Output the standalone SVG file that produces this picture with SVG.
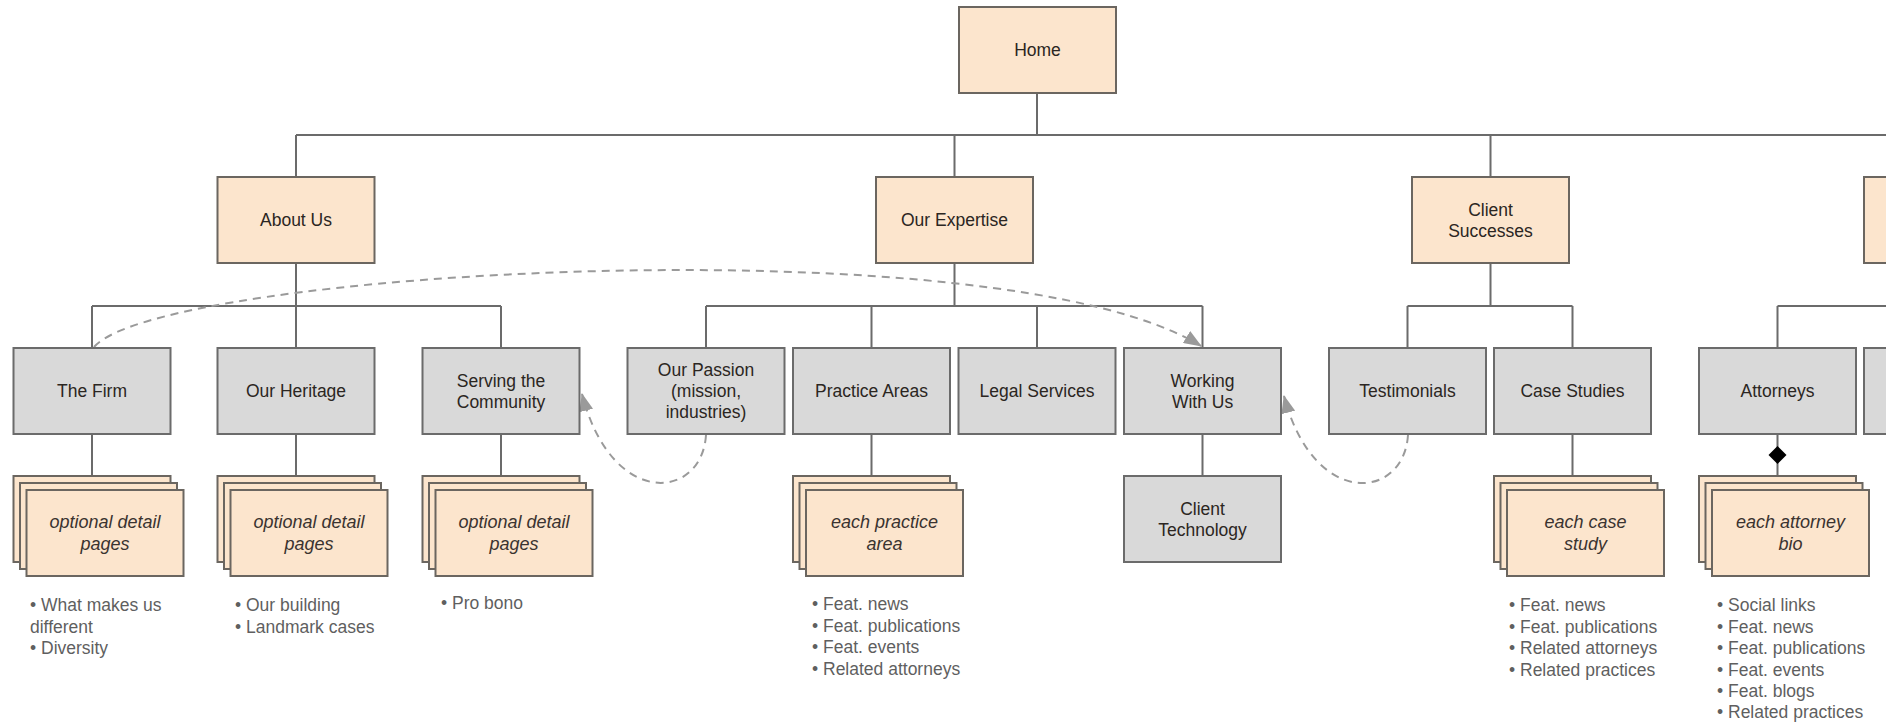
<svg xmlns="http://www.w3.org/2000/svg" width="1886" height="722" viewBox="0 0 1886 722">
<defs>
<style>
.o{fill:#fce5cd;stroke:#6b6660;stroke-width:2}
.g{fill:#d9d9d9;stroke:#6b6b6b;stroke-width:2}
.t{font-family:"Liberation Sans",Arial,sans-serif;font-size:17.5px;fill:#2b2622;text-anchor:middle;dominant-baseline:central}
.i{font-family:"Liberation Sans",Arial,sans-serif;font-size:18px;font-style:italic;fill:#3a3330;text-anchor:middle;dominant-baseline:central}
.b{font-family:"Liberation Sans",Arial,sans-serif;font-size:17.5px;fill:#5f5f5f}
.ln{fill:none;stroke:#6b6b6b;stroke-width:2}
.d{fill:none;stroke:#9a9a9a;stroke-width:2;stroke-dasharray:8 6}
</style>
<marker id="ah2" viewBox="0 0 18 14" refX="17" refY="7" markerWidth="18" markerHeight="14" markerUnits="userSpaceOnUse" orient="auto">
<path d="M0 0 L18 7 L0 14 z" fill="#9a9a9a"/>
</marker>
<g id="stack">
<rect class="o" x="0" y="0" width="157" height="86"/>
<rect class="o" x="6.5" y="7" width="157" height="86"/>
<rect class="o" x="13" y="14" width="157" height="86"/>
</g>
</defs>
<rect width="1886" height="722" fill="#ffffff"/>

<g id="connectors">
<path class="ln" d="M1037 93 V135 M296 135 H1886 M296 135 V177 M954.5 135 V177 M1490.5 135 V177"/>
<path class="ln" d="M296 263 V306 M92 306 H501 M92 306 V348 M296 306 V348 M501 306 V348"/>
<path class="ln" d="M954.5 263 V306 M706 306 H1202.5 M706 306 V348 M871.5 306 V348 M1037 306 V348 M1202.5 306 V348"/>
<path class="ln" d="M1490.5 263 V306 M1407.5 306 H1572.5 M1407.5 306 V348 M1572.5 306 V348"/>
<path class="ln" d="M1777.5 306 H1886 M1777.5 306 V348"/>
<path class="ln" d="M92 434 V476 M296 434 V476 M501 434 V476 M871.5 434 V476 M1202.5 434 V476 M1572.5 434 V476 M1777.5 434 V476"/>
<path d="M1777.5 446 L1786.5 455 L1777.5 464 L1768.5 455 z" fill="#000"/>
<path class="d" d="M94 347 C160 270, 1000 222, 1201 346" marker-end="url(#ah2)"/>
<path class="d" d="M706 435 C702 500, 612 510, 582 394" marker-end="url(#ah2)"/>
<path class="d" d="M1408 435 C1404 500, 1314 510, 1284 396" marker-end="url(#ah2)"/>
</g>

<g id="home"><rect class="o" x="959" y="7" width="157" height="86"/><text class="t" x="1037.5" y="50">Home</text></g>
<g id="about-us"><rect class="o" x="217.5" y="177" width="157" height="86"/><text class="t" x="296" y="220">About Us</text></g>
<g id="our-expertise"><rect class="o" x="876" y="177" width="157" height="86"/><text class="t" x="954.5" y="220">Our Expertise</text></g>
<g id="client-successes"><rect class="o" x="1412" y="177" width="157" height="86"/><text class="t" x="1490.5" y="209.5">Client</text><text class="t" x="1490.5" y="230.5">Successes</text></g>
<g id="top-5"><rect class="o" x="1864" y="177" width="157" height="86"/></g>

<g id="the-firm"><rect class="g" x="13.5" y="348" width="157" height="86"/><text class="t" x="92" y="391">The Firm</text></g>
<g id="our-heritage"><rect class="g" x="217.5" y="348" width="157" height="86"/><text class="t" x="296" y="391">Our Heritage</text></g>
<g id="serving"><rect class="g" x="422.5" y="348" width="157" height="86"/><text class="t" x="501" y="380.5">Serving the</text><text class="t" x="501" y="401.5">Community</text></g>
<g id="our-passion"><rect class="g" x="627.5" y="348" width="157" height="86"/><text class="t" x="706" y="370">Our Passion</text><text class="t" x="706" y="391">(mission,</text><text class="t" x="706" y="412">industries)</text></g>
<g id="practice-areas"><rect class="g" x="793" y="348" width="157" height="86"/><text class="t" x="871.5" y="391">Practice Areas</text></g>
<g id="legal-services"><rect class="g" x="958.5" y="348" width="157" height="86"/><text class="t" x="1037" y="391">Legal Services</text></g>
<g id="working-with-us"><rect class="g" x="1124" y="348" width="157" height="86"/><text class="t" x="1202.5" y="380.5">Working</text><text class="t" x="1202.5" y="401.5">With Us</text></g>
<g id="testimonials"><rect class="g" x="1329" y="348" width="157" height="86"/><text class="t" x="1407.5" y="391">Testimonials</text></g>
<g id="case-studies"><rect class="g" x="1494" y="348" width="157" height="86"/><text class="t" x="1572.5" y="391">Case Studies</text></g>
<g id="attorneys"><rect class="g" x="1699" y="348" width="157" height="86"/><text class="t" x="1777.5" y="391">Attorneys</text></g>
<g id="second-11"><rect class="g" x="1864" y="348" width="157" height="86"/></g>

<g id="client-technology"><rect class="g" x="1124" y="476" width="157" height="86"/><text class="t" x="1202.5" y="508.5">Client</text><text class="t" x="1202.5" y="529.5">Technology</text></g>

<g id="firm-details"><use href="#stack" x="13.5" y="476"/><text class="i" x="105" y="522">optional detail</text><text class="i" x="105" y="544">pages</text>
<text class="b" y="611"><tspan x="30">• What makes us</tspan><tspan x="30" y="632.5">different</tspan><tspan x="30" y="654">• Diversity</tspan></text></g>
<g id="heritage-details"><use href="#stack" x="217.5" y="476"/><text class="i" x="309" y="522">optional detail</text><text class="i" x="309" y="544">pages</text>
<text class="b" y="611"><tspan x="235">• Our building</tspan><tspan x="235" y="632.5">• Landmark cases</tspan></text></g>
<g id="serving-details"><use href="#stack" x="422.5" y="476"/><text class="i" x="514" y="522">optional detail</text><text class="i" x="514" y="544">pages</text>
<text class="b" x="441" y="609">• Pro bono</text></g>
<g id="practice-details"><use href="#stack" x="793" y="476"/><text class="i" x="884.5" y="522">each practice</text><text class="i" x="884.5" y="544">area</text>
<text class="b" y="610"><tspan x="812">• Feat. news</tspan><tspan x="812" y="631.5">• Feat. publications</tspan><tspan x="812" y="653">• Feat. events</tspan><tspan x="812" y="674.5">• Related attorneys</tspan></text></g>
<g id="case-details"><use href="#stack" x="1494" y="476"/><text class="i" x="1585.5" y="522">each case</text><text class="i" x="1585.5" y="544">study</text>
<text class="b" y="611"><tspan x="1509">• Feat. news</tspan><tspan x="1509" y="632.5">• Feat. publications</tspan><tspan x="1509" y="654">• Related attorneys</tspan><tspan x="1509" y="675.5">• Related practices</tspan></text></g>
<g id="attorney-details"><use href="#stack" x="1699" y="476"/><text class="i" x="1790.5" y="522">each attorney</text><text class="i" x="1790.5" y="544">bio</text>
<text class="b" y="611"><tspan x="1717">• Social links</tspan><tspan x="1717" y="632.5">• Feat. news</tspan><tspan x="1717" y="654">• Feat. publications</tspan><tspan x="1717" y="675.5">• Feat. events</tspan><tspan x="1717" y="697">• Feat. blogs</tspan><tspan x="1717" y="718">• Related practices</tspan></text></g>
</svg>
